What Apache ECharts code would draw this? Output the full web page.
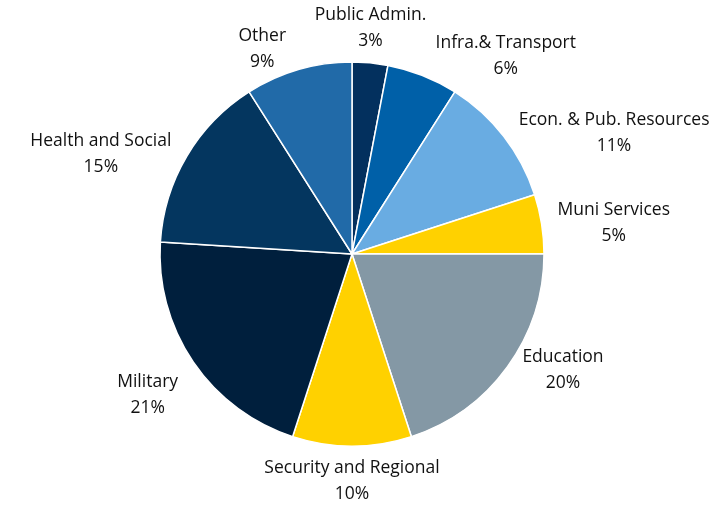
<!DOCTYPE html>
<html>
<head>
<meta charset="utf-8">
<script src="https://cdn.jsdelivr.net/npm/echarts@6/dist/echarts.min.js"></script>
<style>html,body{margin:0;padding:0;background:#fff;}#c{width:727px;height:510px;}</style>
</head>
<body>
<div id="c"></div>
<script>
var categories = ['Public Admin.', 'Infra.& Transport', 'Econ. & Pub. Resources', 'Muni Services', 'Education', 'Security and Regional', 'Military', 'Health and Social', 'Other'];
var values = [3, 6, 11, 5, 20, 10, 21, 15, 9];
var colors = ['#03305e', '#0060a8', '#69ace2', '#ffd100', '#8498a5', '#ffd100', '#001f3d', '#04365f', '#216aa8'];

var CX = 352, CY = 254, R = 192;
var total = values.reduce(function (a, b) { return a + b; }, 0);
function midUnit(idx) {
  var before = 0;
  for (var i = 0; i < idx; i++) before += values[i];
  var frac = (before + values[idx] / 2) / total;
  var a = frac * Math.PI * 2;
  return {x: Math.sin(a), y: -Math.cos(a)};
}
function ramp(t, t0, k) {
  var s = t < 0 ? -1 : 1;
  var v = Math.max(0, Math.min(1, (Math.abs(t) - t0) * k));
  return s * v;
}

var chart = echarts.init(document.getElementById('c'), null, {renderer: 'canvas'});
var data = categories.map(function (n, i) {
  return {name: n, value: values[i], itemStyle: {color: colors[i]}};
});
chart.setOption({
  animation: false,
  series: [{
    type: 'pie',
    center: [CX, CY],
    radius: R,
    startAngle: 90,
    clockwise: true,
    avoidLabelOverlap: false,
    data: data,
    itemStyle: {borderColor: '#ffffff', borderWidth: 1.5},
    label: {
      show: true,
      position: 'outside',
      formatter: function (p) { return p.name + '\n' + p.value + '%'; },
      fontFamily: 'Open Sans',
      fontSize: 17.5,
      lineHeight: 26,
      color: '#111111'
    },
    labelLine: {show: false, length: 6, length2: 0},
    labelLayout: function (params) {
      var r = params.labelRect;
      var u = midUnit(params.dataIndex);
      var D = R + 5;
      var px = CX + u.x * D, py = CY + u.y * D;
      var gx = ramp(u.x, 0.1, 6);
      var gy = ramp(u.y, 0.6, 2.5) * (1 - 0.4 * Math.abs(gx));
      // lower-left quadrant: anchor at the label's top-right corner
      if (u.x < -0.3 && u.y > 0.3) gy = 1;
      return {
        x: px + gx * (r.width / 2 + 11),
        y: py + gy * (r.height / 2 + 4),
        align: 'center',
        verticalAlign: 'middle'
      };
    }
  }]
});
</script>
</body>
</html>
